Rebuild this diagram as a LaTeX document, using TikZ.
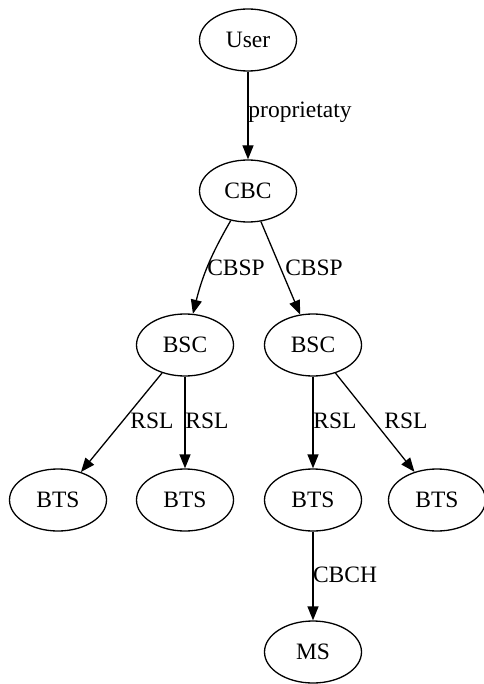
\documentclass[tikz,border=0pt]{standalone}
\usepackage{fontspec}
\setmainfont{Liberation Serif}
\usetikzlibrary{shapes.geometric,arrows.meta}

\begin{document}
\begin{tikzpicture}[x=1pt, y=-1pt,
  ent/.style={draw, ellipse, line width=1.3pt, inner sep=0pt,
              minimum width=97pt, minimum height=62pt,
              font=\fontsize{23.5}{28}\selectfont},
  lbl/.style={inner sep=0pt, font=\fontsize{23.5}{28}\selectfont},
  msg/.style={-{Triangle[length=14pt,width=11pt]}, line width=1.3pt}]
\useasboundingbox (0,0) rectangle (483,684);

\node[ent] (user) at (248,40) {User};
\node[ent] (cbc)  at (248,191) {CBC};
\node[ent] (bsca) at (185,345) {BSC};
\node[ent] (bscb) at (313,345) {BSC};
\node[ent] (btsa) at (58,500) {BTS};
\node[ent] (btsb) at (185,500) {BTS};
\node[ent] (btsc) at (313,500) {BTS};
\node[ent] (btsd) at (437,500) {BTS};
\node[ent] (ms)   at (313,652) {MS};

\draw[msg] (user) -- (cbc);
\draw[msg] (cbc) to[bend right=8] (bsca);
\draw[msg] (cbc) -- (bscb);
\draw[msg] (bsca) -- (btsa);
\draw[msg] (bsca) -- (btsb);
\draw[msg] (bscb) -- (btsc);
\draw[msg] (bscb) -- (btsd);
\draw[msg] (btsc) -- (ms);

% edge labels
\node[lbl] (lprop) at (300,112) {proprietaty};
\node[lbl] (lcbspa) at (236,268) {CBSP};
\node[lbl] (lcbspb) at (314,268) {CBSP};
\node[lbl] (lrsla) at (152,421) {RSL};
\node[lbl] (lrslb) at (207,421) {RSL};
\node[lbl] (lrslc) at (335,421) {RSL};
\node[lbl] (lrsld) at (406,421) {RSL};
\node[lbl] (lcbch) at (345,575) {CBCH};
\end{tikzpicture}
\end{document}
